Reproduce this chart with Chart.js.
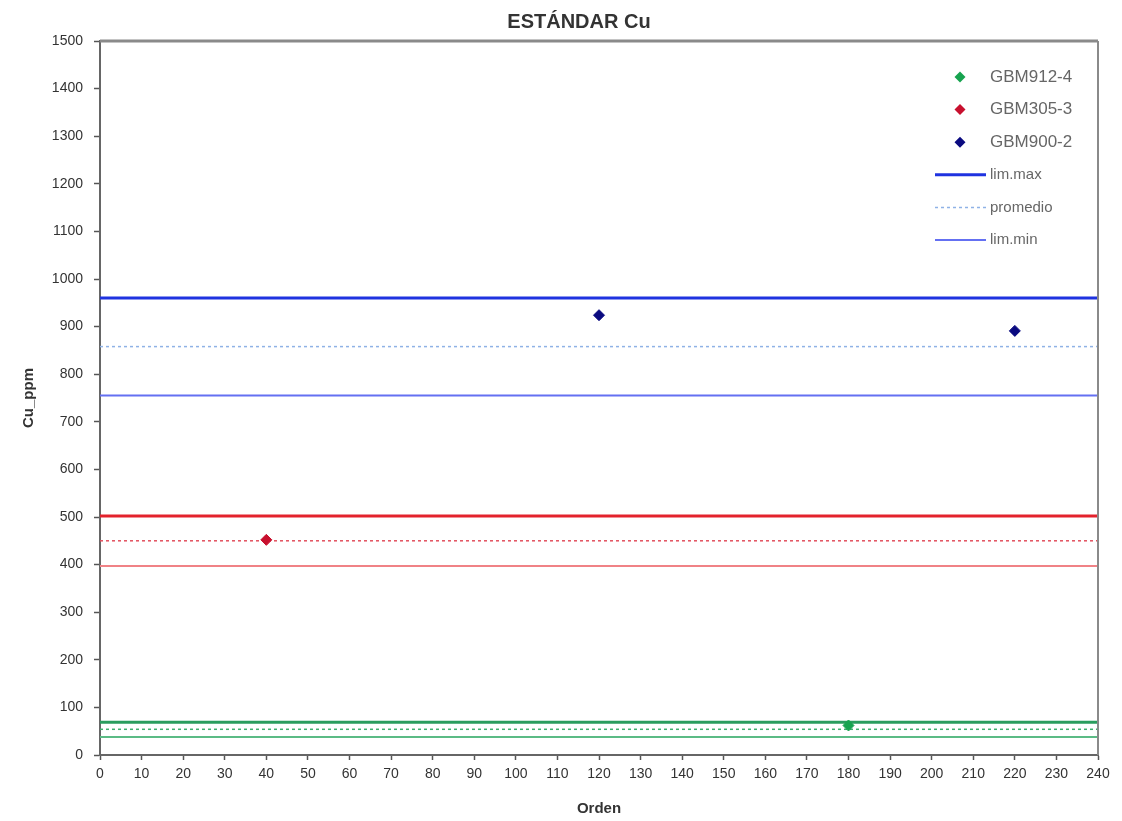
<!DOCTYPE html>
<html><head><meta charset="utf-8">
<script src="https://cdn.jsdelivr.net/npm/chart.js@4/dist/chart.umd.min.js"></script>
<style>html,body{margin:0;padding:0;background:#fff}#w{width:1122px;height:821px}</style>
</head><body><div id="w"><canvas id="c" width="1122" height="821"></canvas></div>
<script>
const chartTitle = 'ESTÁNDAR Cu';
const xTicks = [0,10,20,30,40,50,60,70,80,90,100,110,120,130,140,150,160,170,180,190,200,210,220,230,240];
const yTicks = [0,100,200,300,400,500,600,700,800,900,1000,1100,1200,1300,1400,1500];
const xRange = [0, 240];
// standards: [lim.max, promedio, lim.min]
const gbm900Limits = [960, 858, 755];
const gbm305Limits = [502, 450, 397];
const gbm912Limits = [69, 54, 38];
// samples
const gbm912Orden = [180], gbm912Cu = [62];
const gbm305Orden = [40],  gbm305Cu = [452];
const gbm900Orden = [120, 220], gbm900Cu = [924, 891];

const FONT = '"Liberation Sans", Arial, sans-serif';
const pts = (xs, ys) => xs.map((x,i)=>({x, y: ys[i]}));
const hline = v => [{x:xRange[0], y:v},{x:xRange[1], y:v}];
function lineDs(label, v, color, width, dash){
  return {label, data: hline(v), showLine:true, borderColor:color, backgroundColor:color,
    borderWidth:width, borderDash:dash||[], pointRadius:0, pointHoverRadius:0, order:2};
}
function ptDs(label, xs, ys, color){
  return {label, data: pts(xs,ys), pointStyle:'rectRot', pointRadius:5.5, pointBorderWidth:1,
    backgroundColor:color, borderColor:color, showLine:false, order:1};
}
const datasets = [
  ptDs('GBM912-4', gbm912Orden, gbm912Cu, '#17a34f'),
  ptDs('GBM305-3', gbm305Orden, gbm305Cu, '#c8102e'),
  ptDs('GBM900-2', gbm900Orden, gbm900Cu, '#0a0a80'),
  lineDs('lim.max', gbm900Limits[0], '#1f33e0', 3),
  lineDs('promedio', gbm900Limits[1], '#8fb2e6', 1.5, [3,3]),
  lineDs('lim.min', gbm900Limits[2], '#6470f2', 2),
  lineDs('r.max', gbm305Limits[0], '#e3222c', 3),
  lineDs('r.prom', gbm305Limits[1], '#e2505e', 1.5, [3,3]),
  lineDs('r.min', gbm305Limits[2], '#f08286', 2),
  lineDs('g.max', gbm912Limits[0], '#2a9d5e', 3),
  lineDs('g.prom', gbm912Limits[1], '#3fae6e', 1.5, [3,3]),
  lineDs('g.min', gbm912Limits[2], '#5bbb85', 2),
];

const frame = {
  id:'frame',
  afterDraw(chart){
    const {ctx, chartArea:a} = chart;
    ctx.save();
    // title
    ctx.fillStyle='#333';
    ctx.font = 'bold 20px ' + FONT;
    ctx.textAlign='center'; ctx.textBaseline='middle';
    ctx.fillText(chartTitle, 579, 22);
    ctx.textAlign='left';
    // frame
    ctx.strokeStyle='#8a8a8a';
    ctx.lineWidth=3;
    ctx.beginPath(); ctx.moveTo(a.left, a.top); ctx.lineTo(a.right, a.top); ctx.stroke();
    ctx.lineWidth=2;
    ctx.beginPath(); ctx.moveTo(a.right, a.top); ctx.lineTo(a.right, a.bottom); ctx.stroke();
    // legend
    const items = [0,1,2,3,4,5];
    const x0 = 935, y0 = 77, dy = 32.6;
    items.forEach((i,k)=>{
      const ds = chart.data.datasets[i];
      const y = y0 + k*dy;
      if (ds.showLine){
        ctx.strokeStyle = ds.borderColor; ctx.lineWidth = ds.borderWidth;
        ctx.setLineDash(ds.borderDash);
        ctx.beginPath(); ctx.moveTo(x0, y); ctx.lineTo(x0+51, y); ctx.stroke();
        ctx.setLineDash([]);
        ctx.fillStyle='#666';
        ctx.font = '15px ' + FONT;
        ctx.fillText(ds.label, x0+55, y);
      } else {
        ctx.fillStyle = ds.backgroundColor;
        const cx = x0+25, r=5.5;
        ctx.beginPath(); ctx.moveTo(cx, y-r); ctx.lineTo(cx+r, y); ctx.lineTo(cx, y+r); ctx.lineTo(cx-r, y); ctx.closePath(); ctx.fill();
        ctx.fillStyle='#666';
        ctx.font = '17px ' + FONT;
        ctx.fillText(ds.label, x0+55, y);
      }
    });
    ctx.restore();
  }
};

new Chart(document.getElementById('c'), {
  type:'scatter',
  data:{datasets},
  plugins:[frame],
  options:{
    responsive:false, animation:false, devicePixelRatio:1,
    layout:{padding:{left:20, right:24, top:41, bottom:0}},
    plugins:{ legend:{display:false}, tooltip:{enabled:false}, title:{display:false} },
    scales:{
      x:{type:'linear', min:xRange[0], max:xRange[1],
        afterBuildTicks(s){ s.ticks = xTicks.map(v=>({value:v})); },
        afterFit(s){ s.height = 66; },
        grid:{display:true, drawOnChartArea:false, drawTicks:true, tickLength:5, color:'#555', tickWidth:1.5},
        border:{display:true, color:'#666', width:2},
        ticks:{color:'#333', padding:6, maxRotation:0, autoSkip:false,
          font:{family:FONT, size:14}},
        title:{display:true, text:'Orden', color:'#333', padding:{top:0,bottom:3},
          font:{family:FONT, size:15, weight:'bold', lineHeight:1.2}}
      },
      y:{type:'linear', min:0, max:1500,
        afterBuildTicks(s){ s.ticks = yTicks.map(v=>({value:v})); },
        afterFit(s){ s.width = 80; },
        grid:{display:true, drawOnChartArea:false, drawTicks:true, tickLength:6, color:'#555', tickWidth:1.5},
        border:{display:true, color:'#666', width:2},
        ticks:{color:'#333', padding:11, autoSkip:false, callback:v=>String(v),
          font:{family:FONT, size:14}},
        title:{display:true, text:'Cu_ppm', color:'#333', padding:0,
          font:{family:FONT, size:15, weight:'bold', lineHeight:1.2}}
      }
    }
  }
});
</script>
</body></html>
